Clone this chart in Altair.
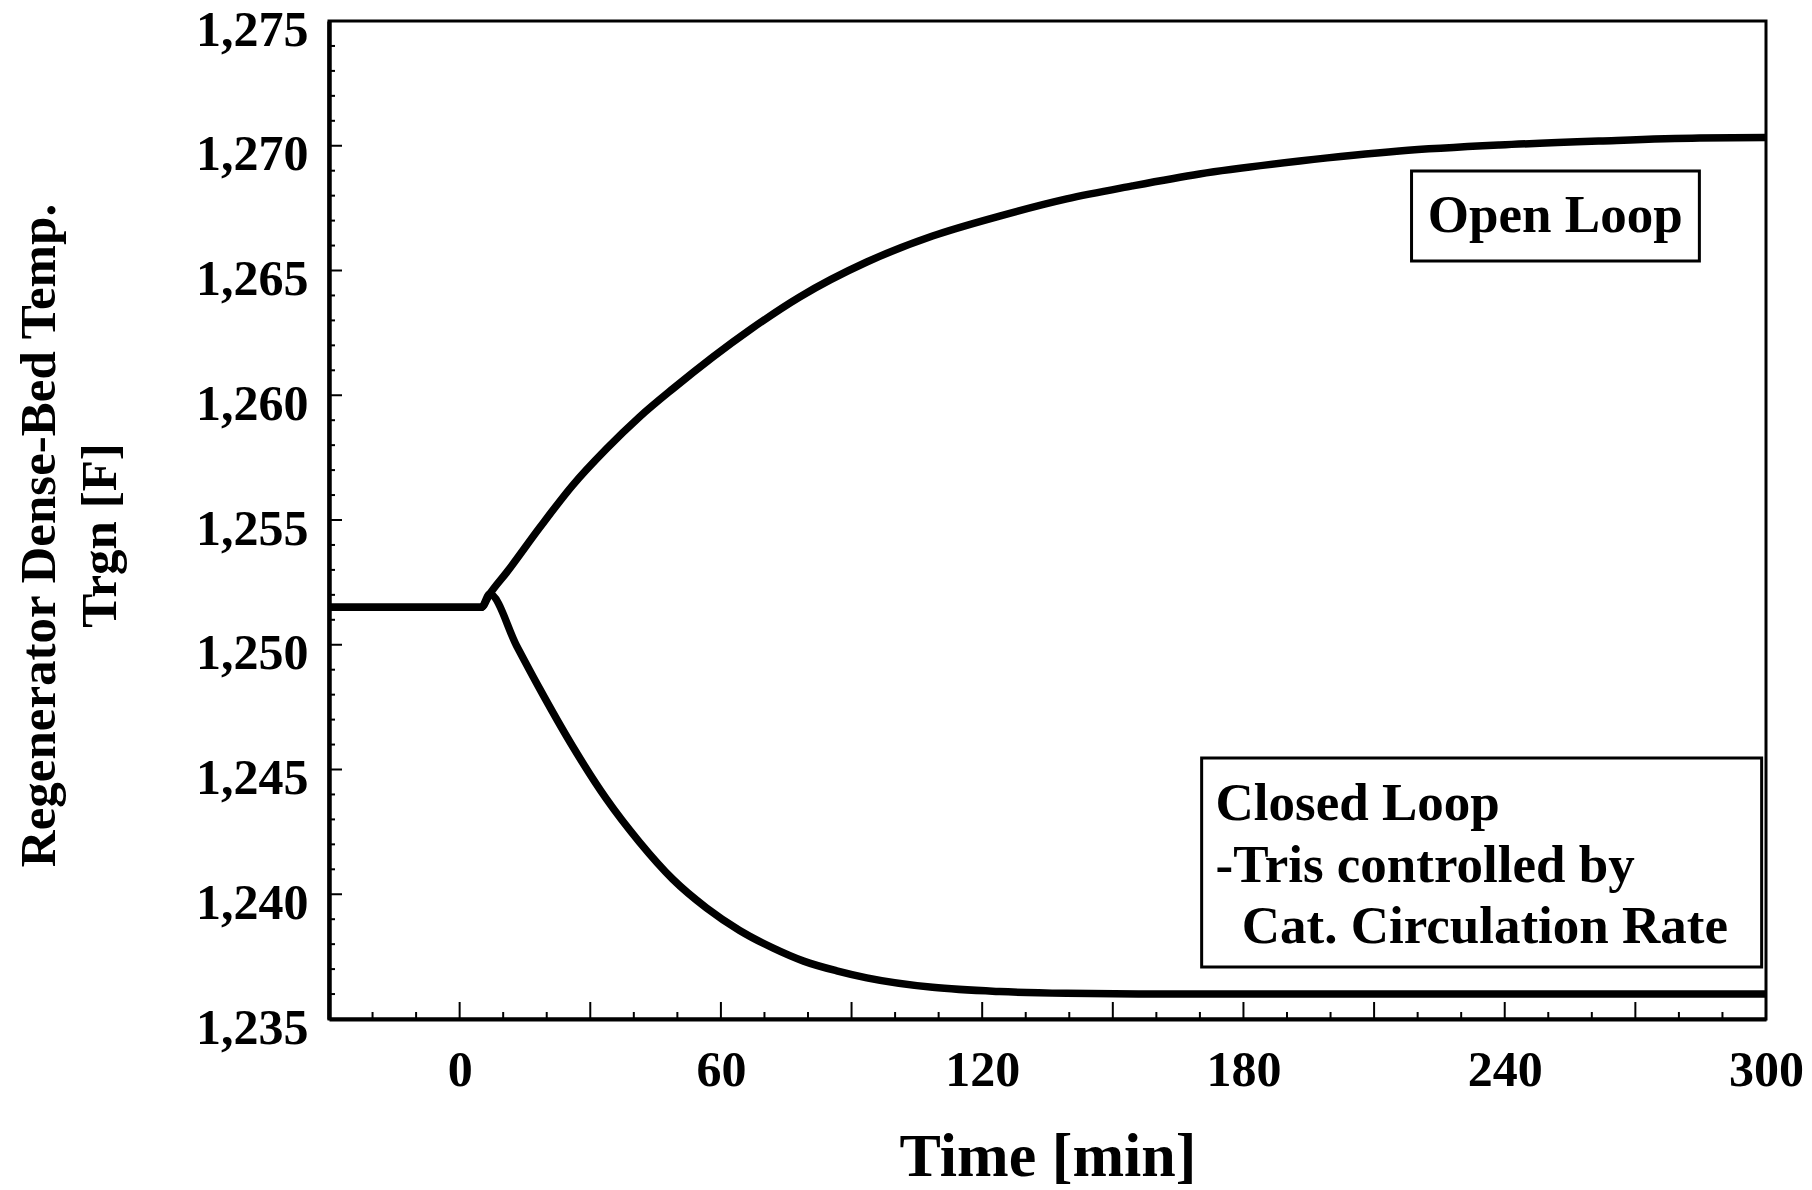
import altair as alt
import pandas as pd

# Regenerator dense-bed temperature response (deg F) after the step at t = 0
open_t = [-30, 5.0, 6.9, 10.8, 18.4, 25.9, 33.7, 41.3, 48.9, 66.8, 78.1, 93.5,
          108.6, 124, 139.4, 154.5, 169.9, 192.9, 215.8, 238.8, 261.8, 284.7, 300]
open_v = [1251.5, 1251.5, 1252.03, 1252.9, 1254.7, 1256.38, 1257.85, 1259.13,
          1260.25, 1262.64, 1263.94, 1265.34, 1266.38, 1267.18, 1267.87, 1268.39,
          1268.87, 1269.39, 1269.79, 1270.03, 1270.19, 1270.31, 1270.33]

closed_t = [-30, 5.0, 6.9, 13.1, 18.4, 25.9, 33.7, 41.3, 48.9, 56.7, 64.3, 71.9,
            79, 86.6, 93.5, 108.6, 124, 139.4, 160, 200, 250, 300]
closed_v = [1251.5, 1251.5, 1252.03, 1249.95, 1248.23, 1245.94, 1243.82, 1242.09,
            1240.61, 1239.45, 1238.55, 1237.85, 1237.32, 1236.93, 1236.65, 1236.27,
            1236.1, 1236.03, 1236.0, 1236.0, 1236.0, 1236.0]

x_domain = [-30, 300]
y_domain = [1235, 1275]
x_label_values = [0, 60, 120, 180, 240, 300]
y_label_values = [1235, 1240, 1245, 1250, 1255, 1260, 1265, 1270, 1275]
x_major_ticks = [0, 30, 60, 90, 120, 150, 180, 210, 240, 270]
x_minor_ticks = [t for t in range(-20, 300, 10) if t % 30 != 0]
y_major_ticks = [1240, 1245, 1250, 1255, 1260, 1265, 1270]
y_minor_ticks = [v for v in range(1236, 1275) if v % 5 != 0]

# annotation boxes (time/temperature corners) and their text
open_box = {"t": [218.6], "t2": [284.7], "v": [1265.38], "v2": [1268.99]}
open_text = {"t": [251.6], "v": [1267.2], "label": ["Open Loop"]}
closed_box = {"t": [170.4], "t2": [299.0], "v": [1237.08], "v2": [1245.46]}
closed_text = {"t": [173.6, 173.6, 179.6],
               "v": [1243.62, 1241.13, 1238.69],
               "label": ["Closed Loop", "-Tris controlled by",
                         "Cat. Circulation Rate"]}

W, H = 1437, 998
FONT = "Liberation Serif"

curves = pd.concat([
    pd.DataFrame({"t": open_t, "v": open_v, "series": "Open Loop"}),
    pd.DataFrame({"t": closed_t, "v": closed_v, "series": "Closed Loop"}),
])

X = alt.X(
    "t:Q",
    scale=alt.Scale(domain=x_domain, nice=False, zero=False),
    axis=alt.Axis(
        values=x_label_values, format="d", title="Time [min]",
        ticks=False, tickSize=0, labelPadding=26, labelFlush=False,
        labelOverlap=False, labelFontSize=50,
        domain=True, domainColor="black", domainWidth=4,
        titleFontSize=62, titleX=W / 2, titleY=156, titleAlign="center",
        titleBaseline="alphabetic", titleAngle=0,
    ),
)
Y = alt.Y(
    "v:Q",
    scale=alt.Scale(domain=y_domain, nice=False, zero=False),
    axis=alt.Axis(
        values=y_label_values, format=",d",
        title=["Regenerator Dense-Bed Temp.", "Trgn [F]"],
        ticks=False, tickSize=0, labelPadding=21, labelFlush=False,
        labelOverlap=False, labelBaseline="middle", labelOffset=9,
        labelFontSize=50,
        domain=True, domainColor="black", domainWidth=4.5,
        titleFontSize=51, titleLineHeight=61, titleAngle=-90,
        titleX=-275, titleY=514, titleAlign="center",
        titleBaseline="alphabetic",
    ),
)

lines = alt.Chart(curves).mark_line(
    color="black", strokeWidth=7.5, interpolate="monotone"
).encode(x=X, y=Y, detail="series:N")

xt_major = alt.Chart(pd.DataFrame({"t": x_major_ticks})).mark_rule(
    color="black", strokeWidth=2
).encode(x=X, y=alt.value(H), y2=alt.value(H - 17))
xt_minor = alt.Chart(pd.DataFrame({"t": x_minor_ticks})).mark_rule(
    color="black", strokeWidth=2
).encode(x=X, y=alt.value(H), y2=alt.value(H - 7))
yt_major = alt.Chart(pd.DataFrame({"v": y_major_ticks})).mark_rule(
    color="black", strokeWidth=2
).encode(y=Y, x=alt.value(0), x2=alt.value(13))
yt_minor = alt.Chart(pd.DataFrame({"v": y_minor_ticks})).mark_rule(
    color="black", strokeWidth=2
).encode(y=Y, x=alt.value(0), x2=alt.value(6))

box_style = dict(fill="white", stroke="black", strokeWidth=3)
open_rect = alt.Chart(pd.DataFrame(open_box)).mark_rect(**box_style).encode(
    x=X, x2="t2:Q", y=Y, y2="v2:Q")
closed_rect = alt.Chart(pd.DataFrame(closed_box)).mark_rect(**box_style).encode(
    x=X, x2="t2:Q", y=Y, y2="v2:Q")

text_style = dict(font=FONT, fontSize=53, fontWeight="bold", color="black",
                  baseline="middle")
open_label = alt.Chart(pd.DataFrame(open_text)).mark_text(
    align="center", **text_style).encode(x=X, y=Y, text="label:N")
closed_label = alt.Chart(pd.DataFrame(closed_text)).mark_text(
    align="left", **text_style).encode(x=X, y=Y, text="label:N")

chart = alt.layer(
    open_rect, closed_rect, xt_major, xt_minor, yt_major, yt_minor,
    lines, open_label, closed_label,
).properties(
    width=W, height=H,
    autosize=alt.AutoSizeParams(type="none"),
    padding={"left": 329, "top": 21, "right": 46, "bottom": 171},
    background="white",
).configure_view(
    stroke="black", strokeWidth=3,
).configure_axis(
    grid=False, labelFont=FONT, labelFontWeight="bold",
    labelColor="black", titleFont=FONT, titleFontWeight="bold",
    titleColor="black",
)

chart.save("out.html", embed_options={"renderer": "svg", "actions": False})
